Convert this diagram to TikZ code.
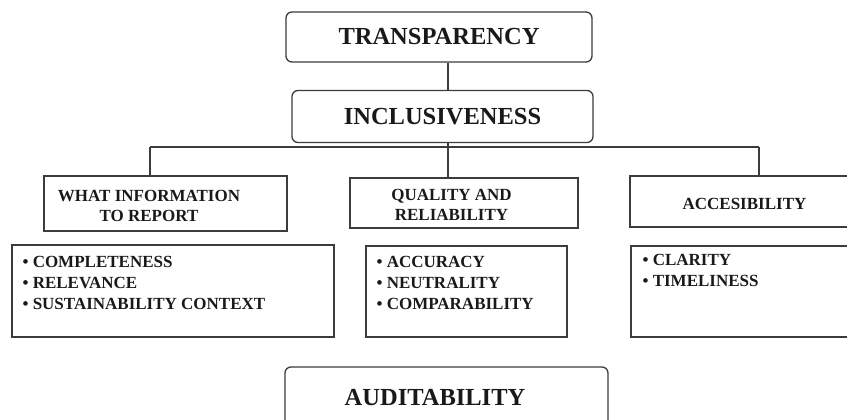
\documentclass[tikz,border=0pt]{standalone}
\usepackage{fontspec}
\setmainfont{Liberation Serif}
\usepackage{tikz}
\usetikzlibrary{positioning}
\usetikzlibrary{calc}
\definecolor{GDLine}{RGB}{60,60,60}
\definecolor{GDText}{RGB}{25,25,25}

\begin{document}
\begin{tikzpicture}[x=1pt,y=-1pt,
		roundbox/.style={draw=GDLine,line width=1.3pt,rounded corners=6pt,inner sep=0pt,text=GDText,font=\bfseries\fontsize{24.5}{26}\selectfont},
		flatbox/.style={draw=GDLine,line width=1.3pt,inner sep=0pt},
		headtext/.style={inner sep=0pt,align=center,text=GDText,font=\bfseries\fontsize{17}{20}\selectfont},
		listtext/.style={inner sep=0pt,align=left,anchor=north west,text=GDText,font=\bfseries\fontsize{17}{21}\selectfont}]
			\useasboundingbox (0,0) rectangle (847,420);
			\clip (0,0) rectangle (847,420);
			\begin{scope}
				\node[roundbox,minimum width=306pt,minimum height=50pt] (trans) at (439,37) {TRANSPARENCY};
				\node[roundbox,minimum width=301pt,minimum height=52pt] (incl) at (442.5,116.5) {INCLUSIVENESS};
				\node[roundbox,minimum width=323pt,minimum height=80pt] (audit) at (446.5,407) {};
				\node[inner sep=0pt,text=GDText,font=\bfseries\fontsize{24.5}{26}\selectfont] (auditT) at (435,398) {AUDITABILITY};

				\node[flatbox,minimum width=243pt,minimum height=55pt] (what) at (165.5,203.5) {};
				\node[flatbox,minimum width=228pt,minimum height=50pt] (qual) at (464,203) {};
				\node[flatbox,minimum width=230pt,minimum height=51pt] (acc) at (745,201.5) {};
				\node[headtext] (whatT) at (149,206) {WHAT INFORMATION\\TO REPORT};
				\node[headtext] (qualT) at (451.5,205) {QUALITY AND\\RELIABILITY};
				\node[headtext] (accT) at (744.5,203.5) {ACCESIBILITY};

				\node[flatbox,minimum width=322pt,minimum height=92pt] (whatL) at (173,291) {};
				\node[flatbox,minimum width=201pt,minimum height=91pt] (qualL) at (466.5,291.5) {};
				\node[flatbox,minimum width=230pt,minimum height=91pt] (accL) at (746,291.5) {};
				\node[listtext] (whatI) at ([xshift=11pt,yshift=-12pt]whatL.north west) {• COMPLETENESS\\• RELEVANCE\\• SUSTAINABILITY CONTEXT};
				\node[listtext] (qualI) at ([xshift=11pt,yshift=-11pt]qualL.north west) {• ACCURACY\\• NEUTRALITY\\• COMPARABILITY};
				\node[listtext] (accI) at ([xshift=12pt,yshift=-9pt]accL.north west) {• CLARITY\\• TIMELINESS};

				\coordinate (hub) at (448,147);
				\coordinate (busL) at (150,147);
				\coordinate (busR) at (759,147);
				\draw[GDLine,line width=1.3pt] (trans.south -| hub) -- (incl.north -| hub);
				\draw[GDLine,line width=1.3pt] (incl.south -| hub) -- (qual.north -| hub);
				\draw[GDLine,line width=1.3pt] (busL) -- (busR);
				\draw[GDLine,line width=1.3pt] (busL) -- (what.north -| busL);
				\draw[GDLine,line width=1.3pt] (busR) -- (acc.north -| busR);
			\end{scope}
		\end{tikzpicture}
\end{document}
